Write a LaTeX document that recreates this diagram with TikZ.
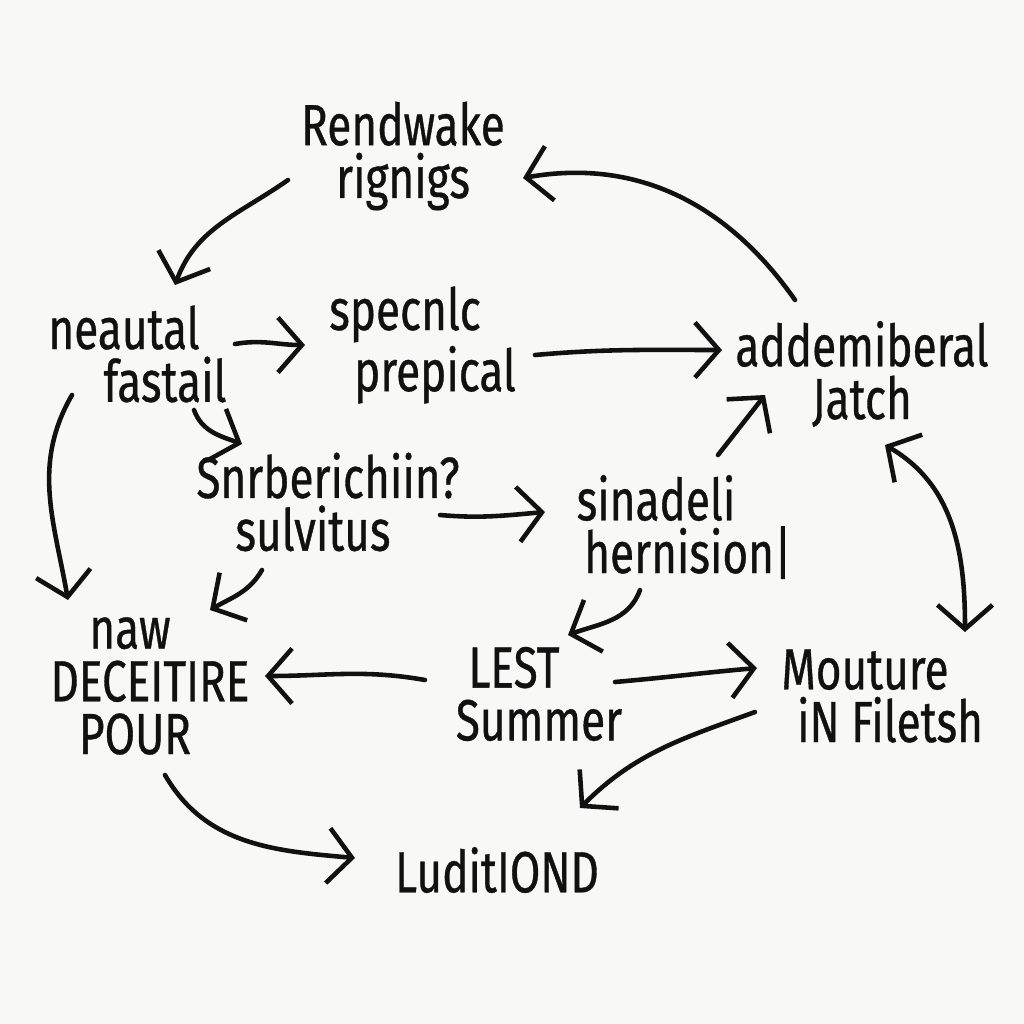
\documentclass[tikz,border=0pt]{standalone}
\usepackage{fontspec}
\setmainfont{Fira Sans}[FakeStretch=0.76,FakeBold=0.6]
\usetikzlibrary{arrows.meta,calc}
\definecolor{paper}{HTML}{F8F8F6}
\definecolor{ink}{HTML}{111111}
\begin{document}
\begin{tikzpicture}[x=0.01cm,y=-0.01cm,
  lbl/.style={align=center,text=ink,font=\fontsize{16.5}{15}\selectfont,inner sep=0pt},
  arr/.style={draw=ink,line width=1.3pt,line cap=round,-{Straight Barb[length=2.4mm,width=5.5mm,line width=1.3pt]}},
  darr/.style={draw=ink,line width=1.3pt,line cap=round,{Straight Barb[length=2.4mm,width=5.5mm,line width=1.3pt]}-{Straight Barb[length=2.4mm,width=5.5mm,line width=1.3pt]}}]
\fill[paper] (0,0) rectangle (1024,1024);
\useasboundingbox (0,0) rectangle (1024,1024);
\node[lbl] (ren) at (403,156) {Rendwake\\rignigs};
\node[lbl] (neu) at (124,354) {neautal\\\hspace*{0.82cm}fastail};
\node[lbl] (spe) at (405,345) {specnlc\\\hspace*{0.6cm}prepical};
\node[lbl] (add) at (862,374) {addemiberal\\Jatch};
\node[lbl] (snr) at (328,502) {Snrberichiin?\\sulvitus\hspace*{0.3cm}};
\node[lbl] (sin) at (656,527) {sinadeli\\\hspace*{0.64cm}hernision|};
\node[lbl] (naw) at (150,686) {naw\hspace*{0.4cm}\\DECEITIRE\\POUR\hspace*{0.3cm}};
\node[lbl] (les) at (514,694) {LEST\\\hspace*{0.5cm}Summer};
\node[lbl] (mou) at (865,696) {Mouture\\\hspace*{0.5cm}iN Filetsh};
\node[lbl] (lud) at (497,870) {LuditIOND};
% connectors
\draw[arr] ($(ren)+(-115,24)$) to[out=215,in=70] ($(neu)+(51,-69)$);
\draw[arr] ($(add)+(-67,-74)$) to[out=125,in=10] ($(ren)+(120,22)$);
\draw[arr] ($(neu)+(111,-10)$) to[out=10,in=180] ($(spe)+(-100,0)$);
\draw[arr] ($(spe)+(130,10)$) to[out=5,in=180] ($(add)+(-140,-24)$);
\draw[arr] ($(neu)+(70,56)$) to[out=290,in=160] ($(snr)+(-86,-58)$);
\draw[arr] ($(neu)+(-52,41)$) to[out=240,in=100] ($(naw)+(-82,-86)$);
\draw[arr] ($(snr)+(-66,68)$) to[out=240,in=30] ($(naw)+(60,-76)$);
\draw[arr] ($(snr)+(112,13)$) to[out=-5,in=185] ($(sin)+(-111,-15)$);
\draw[arr] ($(sin)+(62,-72)$) -- ($(add)+(-97,21)$);
\draw[darr] ($(add)+(23,71)$) to[out=-30,in=90] ($(mou)+(100,-64)$);
\draw[arr] ($(sin)+(-16,63)$) to[out=250,in=20] ($(les)+(54,-59)$);
\draw[arr] ($(les)+(-89,-14)$) to[out=170,in=0] ($(naw)+(115,-10)$);
\draw[arr] ($(les)+(101,-12)$) to[out=5,in=185] ($(mou)+(-108,-28)$);
\draw[arr] ($(mou)+(-110,16)$) to[out=200,in=45] ($(lud)+(83,-62)$);
\draw[arr] ($(naw)+(15,89)$) to[out=300,in=175] ($(lud)+(-142,-12)$);
\end{tikzpicture}
\end{document}
